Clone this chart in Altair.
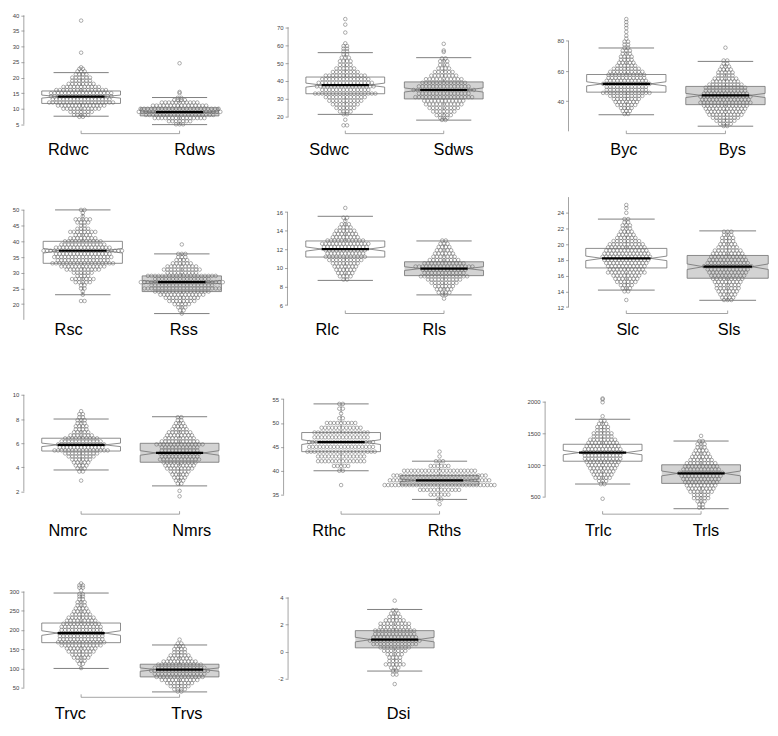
import math
import altair as alt
import pandas as pd

# ------------------------------------------------------------------ data
GROUP_NAMES = [["Rdwc", "Rdws"], ["Sdwc", "Sdws"], ["Byc", "Bys"],
               ["Rsc", "Rss"], ["Rlc", "Rls"], ["Slc", "Sls"],
               ["Nmrc", "Nmrs"], ["Rthc", "Rths"], ["Trlc", "Trls"],
               ["Trvc", "Trvs"], ["Dsi"]]
GROUP_KIND = [["c", "s"]] * 10 + [["s"]]

Y_TICKS = [[5, 10, 15, 20, 25, 30, 35, 40], [20, 30, 40, 50, 60, 70], [20, 40, 60, 80],
           [15, 20, 25, 30, 35, 40, 45, 50], [6, 8, 10, 12, 14, 16],
           [12, 14, 16, 18, 20, 22, 24, 26], [2, 4, 6, 8, 10], [35, 40, 45, 50, 55],
           [500, 1000, 1500, 2000], [50, 100, 150, 200, 250, 300], [-2, 0, 2, 4]]

# box statistics: [lower whisker, Q1, median, Q3, upper whisker]
STATS = {
    "Rdwc": [7.6, 11.7, 13.9, 15.7, 21.6], "Rdws": [4.9, 7.7, 8.9, 10.3, 13.6],
    "Sdwc": [21.4, 32.9, 37.7, 42.2, 55.8], "Sdws": [18.2, 30.0, 35.0, 39.5, 53.0],
    "Byc": [31.0, 46.0, 51.5, 57.7, 75.3], "Bys": [23.4, 37.7, 43.8, 49.8, 66.4],
    "Rsc": [23, 33, 37, 40, 50], "Rss": [17, 24, 27, 29, 36],
    "Rlc": [8.66, 11.17, 12.03, 12.9, 15.55], "Rls": [7.1, 9.17, 9.93, 10.66, 12.9],
    "Slc": [14.16, 16.98, 18.2, 19.47, 23.2], "Sls": [12.86, 15.67, 17.14, 18.57, 21.7],
    "Nmrc": [3.78, 5.35, 5.86, 6.41, 8.0], "Nmrs": [2.46, 4.42, 5.19, 5.99, 8.19],
    "Rthc": [40, 44, 46, 48, 54], "Rths": [34, 37, 38, 39, 42],
    "Trlc": [702, 1061, 1197, 1328, 1722], "Trls": [313, 712, 869, 1005, 1379],
    "Trvc": [100, 167, 192, 218, 296], "Trvs": [39, 78, 97, 111, 161],
    "Dsi": [-1.44, 0.27, 0.88, 1.54, 3.1],
}

# beeswarm rows: (value, number of points side by side)
SWARM = {
    "Rdwc": [(38.3, 1), (28.0, 1), (23.3, 1), (22.8, 2), (22.0, 3), (21.0, 4), (20.0, 6), (19.0, 6),
             (18.0, 8), (17.0, 11), (16.0, 15), (15.0, 18), (14.0, 18), (13.0, 17), (12.0, 19),
             (11.0, 14), (10.0, 11), (9.0, 7), (8.0, 5), (7.4, 2)],
    "Rdws": [(24.6, 1), (15.4, 1), (15.0, 1), (13.5, 2), (12.8, 4), (12.0, 11), (11.0, 16),
             (10.0, 23), (9.0, 24), (8.0, 20), (7.0, 15), (6.0, 7), (5.0, 3)],
    "Sdwc": [(74.5, 1), (71.4, 1), (67.0, 1), (61.0, 1), (59.5, 2), (58.0, 2), (56.5, 2), (55.0, 2),
             (53.0, 3), (51.0, 4), (49.0, 4), (47.0, 6), (45.0, 8), (43.0, 12), (41.0, 14),
             (39.0, 16), (37.0, 17), (35.0, 14), (33.0, 18), (31.0, 12), (29.0, 10), (27.0, 8),
             (25.0, 6), (23.0, 4), (21.5, 2), (18.4, 1), (15.3, 2)],
    "Sdws": [(60.7, 1), (57.0, 1), (56.2, 1), (52.6, 2), (51.0, 3), (49.0, 3), (47.0, 4), (45.0, 6),
             (43.0, 8), (41.0, 11), (39.0, 13), (37.0, 15), (35.0, 18), (33.0, 15), (31.0, 17),
             (29.0, 12), (27.0, 11), (25.0, 9), (23.0, 7), (21.0, 5), (19.5, 3), (18.3, 2)],
    "Byc": [(94.5, 1), (92.5, 1), (90.5, 1), (88.5, 1), (86.0, 1), (83.5, 1), (81.5, 1), (79.5, 2),
            (77.5, 2), (75.5, 2), (73.5, 3), (71.5, 3), (69.5, 4), (67.5, 4), (65.5, 5), (63.5, 6),
            (61.5, 8), (59.5, 10), (57.5, 11), (55.5, 11), (53.5, 12), (51.5, 14), (49.5, 12),
            (47.5, 12), (45.5, 14), (43.5, 10), (41.5, 8), (39.5, 7), (37.5, 6), (35.5, 4),
            (33.5, 3), (31.5, 2)],
    "Bys": [(75.5, 1), (67.0, 2), (65.0, 2), (63.0, 3), (61.0, 4), (59.0, 5), (57.0, 5), (55.0, 7),
            (53.0, 8), (51.0, 10), (49.0, 12), (47.0, 12), (45.0, 13), (43.0, 15), (41.0, 14),
            (39.0, 15), (37.0, 13), (35.0, 12), (33.0, 11), (31.0, 10), (29.0, 8), (27.0, 6),
            (25.0, 4), (23.5, 2)],
    "Rsc": [(50, 2), (49, 1), (48, 1), (47, 5), (46, 4), (45, 2), (44, 4), (43, 8), (42, 5), (41, 8),
            (40, 11), (39, 13), (38, 16), (37, 23), (36, 16), (35, 17), (34, 15), (33, 18), (32, 13),
            (31, 10), (30, 6), (29, 4), (28, 7), (27, 5), (26, 2), (25, 2), (24, 1), (23, 1), (21, 2)],
    "Rss": [(39, 1), (36, 3), (35, 3), (34, 4), (33, 6), (32, 9), (31, 11), (30, 9), (29, 20), (28, 16),
            (27, 24), (26, 18), (25, 22), (24, 16), (23, 13), (22, 10), (21, 8), (20, 5), (19, 3),
            (18, 2), (17, 1)],
    "Rlc": [(16.45, 1), (15.4, 2), (15.05, 1), (14.7, 3), (14.35, 4), (14.0, 6), (13.65, 7), (13.3, 8),
            (12.95, 11), (12.6, 14), (12.25, 13), (11.9, 12), (11.55, 11), (11.2, 12), (10.85, 10),
            (10.5, 8), (10.15, 7), (9.8, 6), (9.45, 5), (9.1, 4), (8.75, 2)],
    "Rls": [(12.95, 2), (12.6, 3), (12.25, 4), (11.9, 5), (11.55, 6), (11.2, 7), (10.85, 9), (10.5, 12),
            (10.15, 17), (9.8, 13), (9.45, 12), (9.1, 14), (8.75, 10), (8.4, 8), (8.05, 6), (7.7, 5),
            (7.35, 4), (7.1, 2), (6.7, 1)],
    "Slc": [(25.0, 1), (24.6, 1), (24.0, 1), (23.2, 2), (22.8, 2), (22.4, 3), (22.0, 3), (21.6, 4),
            (21.2, 5), (20.8, 6), (20.4, 8), (20.0, 10), (19.6, 11), (19.2, 12), (18.8, 13),
            (18.4, 14), (18.0, 13), (17.6, 12), (17.2, 11), (16.8, 10), (16.4, 11), (16.0, 8),
            (15.6, 7), (15.2, 6), (14.8, 4), (14.4, 3), (14.0, 2), (12.9, 1)],
    "Sls": [(21.6, 3), (21.2, 3), (20.8, 4), (20.4, 4), (20.0, 5), (19.6, 6), (19.2, 8), (18.8, 9),
            (18.4, 10), (18.0, 11), (17.6, 12), (17.2, 14), (16.8, 12), (16.4, 11), (16.0, 10),
            (15.6, 9), (15.2, 8), (14.8, 7), (14.4, 7), (14.0, 6), (13.6, 5), (13.2, 4), (12.9, 3)],
    "Nmrc": [(8.65, 1), (8.4, 2), (8.15, 2), (7.9, 3), (7.65, 3), (7.4, 4), (7.15, 4), (6.9, 5),
             (6.65, 7), (6.4, 10), (6.15, 12), (5.9, 14), (5.65, 13), (5.4, 16), (5.15, 10), (4.9, 8),
             (4.65, 6), (4.4, 5), (4.15, 4), (3.9, 3), (3.65, 2), (2.9, 1)],
    "Nmrs": [(8.15, 2), (7.9, 2), (7.65, 3), (7.4, 4), (7.15, 5), (6.9, 7), (6.65, 8), (6.4, 9),
             (6.15, 11), (5.9, 14), (5.65, 11), (5.4, 11), (5.15, 12), (4.9, 11), (4.65, 12),
             (4.4, 10), (4.15, 9), (3.9, 8), (3.65, 6), (3.4, 5), (3.15, 4), (2.9, 3), (2.65, 2),
             (2.05, 1), (1.6, 1)],
    "Rthc": [(54, 2), (53, 2), (52, 1), (51, 2), (50, 9), (49, 12), (48, 16), (47, 16), (46, 19),
             (45, 19), (44, 20), (43, 14), (42, 14), (41, 5), (40, 2), (37, 1)],
    "Rths": [(44, 1), (43, 1), (42, 3), (41, 6), (40, 21), (39, 27), (38, 29), (37, 32), (36, 12),
             (35, 6), (34, 2), (33, 1)],
    "Trlc": [(2050, 1), (2035, 1), (1990, 1), (1770, 1), (1700, 2), (1650, 3), (1600, 4), (1550, 4),
             (1500, 6), (1450, 6), (1400, 8), (1350, 9), (1300, 10), (1250, 11), (1200, 12),
             (1150, 11), (1100, 11), (1050, 10), (1000, 9), (950, 8), (900, 7), (850, 6), (800, 5),
             (750, 3), (700, 2), (470, 1)],
    "Trls": [(1460, 1), (1380, 2), (1330, 3), (1280, 3), (1230, 4), (1180, 5), (1130, 6), (1080, 7),
             (1030, 9), (980, 10), (930, 11), (880, 13), (830, 12), (780, 11), (730, 10), (680, 9),
             (630, 8), (580, 7), (530, 5), (480, 5), (430, 3), (380, 2), (330, 2)],
    "Trvc": [(321, 1), (316, 2), (310, 2), (303, 1), (293, 2), (287, 2), (280, 2), (272, 3), (264, 3),
             (256, 4), (248, 5), (240, 6), (232, 8), (224, 9), (216, 11), (208, 12), (200, 12),
             (192, 13), (184, 13), (176, 13), (168, 14), (160, 12), (152, 9), (144, 8), (136, 6),
             (128, 5), (120, 3), (112, 2), (101, 1)],
    "Trvs": [(175, 1), (165, 2), (158, 3), (150, 4), (142, 4), (134, 6), (126, 7), (118, 10),
             (110, 13), (102, 15), (94, 17), (86, 15), (78, 14), (70, 11), (62, 8), (54, 6), (46, 4),
             (40, 2)],
    "Dsi": [(3.75, 1), (3.05, 2), (2.8, 3), (2.55, 4), (2.3, 6), (2.05, 9), (1.8, 9), (1.55, 12),
            (1.3, 12), (1.05, 13), (0.8, 15), (0.55, 13), (0.3, 9), (0.05, 7), (-0.2, 5), (-0.45, 4),
            (-0.7, 4), (-0.95, 6), (-1.2, 3), (-1.45, 2), (-1.7, 2), (-2.4, 1)],
}

# ------------------------------------------------------------------ layout (measured on the reference)
AXIS_REF = [14, 287.3, 575, 16, 286.7, 575, 16, 282.7, 551, 14.7, 287.3]
CENTER_REF = [(75, 176), (346, 447), (634.3, 736), (76.7, 178.3), (346, 447.3), (634.3, 738.3),
              (75, 176), (341.7, 442.7), (610, 711), (75, 176), (396.7,)]
TICK_REF = [(40, 2.7, 5, 116), (70, 15, 20, 108.3), (80, 29.3, 20, 123.3), (50, 205, 15, 319.3),
            (16, 207.3, 6, 304), (26, 191.7, 12, 306), (10, 397.3, 2, 497.7), (55, 401.7, 35, 501),
            (2000, 404.3, 500, 503.3), (300, 601.7, 50, 701.7), (4, 607.7, -2, 692.3)]
LABEL_SHIFT_REF = [(-13.5, 15), (-17, 9.5), (-3, 6.5), (-15, 1.5), (-19, -10.5), (1, 1), (-14, 12),
                   (-13, 4.5), (-5, 4.5), (-11.5, 7), (3.5,)]
HAS_BRACKET = [True, True, True, False, True, True, True, True, True, True, False]
ROW_BRACKET_REF = [125.7, 312.7, 521.3, 711.7]

SX, SY = 0.985, 0.972


def MX(r):
    return 8 + SX * (r - 1)


def MY(r):
    return 8 + SY * r


L0 = 23.0                           # expected page x of the first column's plot edge
PW, PH = 192, 118                   # uniform plot cell
COL_STEP = (MX(575) - L0) / 2.0     # distance between column left edges
ROW_STEP = 189.0
HSP, VSP = COL_STEP - PW, ROW_STEP - PH
TOP0 = 8.0
DX = 0.036                          # horizontal distance between swarm points (x units)
HALF_BOX = 0.4
NOTCH_F = 0.6
MED_HALF = 0.24
CAP_HALF = 0.28
LABEL_GAP = 16.5                    # label centre below the bracket

GRAY = "#707070"
AXGRAY = "#8c8c8c"
BOX_FILL = {"c": "#ffffff", "s": "#d3d3d3"}


def make_panel(p):
    r, c = divmod(p, 3)
    left = L0 + c * COL_STEP
    top = TOP0 + r * ROW_STEP
    width, height = PW, PH
    bracket_y = MY(ROW_BRACKET_REF[r]) - top
    axis_off = max(0.0, left - MX(AXIS_REF[p])) if c > 0 else 0.0

    names = GROUP_NAMES[p]
    kinds = GROUP_KIND[p]
    cref = CENTER_REF[p]
    ppu = (MX(cref[1]) - MX(cref[0])) if len(cref) == 2 else 99.5
    c1 = MX(cref[0])
    xdom = [1 - (c1 - left) / ppu, 1 + (left + width - c1) / ppu]
    ta, ya, tb, yb = TICK_REF[p]
    Ya, Yb = MY(ya), MY(yb)
    ppy = (Yb - Ya) / (ta - tb)
    ydom = [tb - (top + height - Yb) / ppy, ta + (Ya - top) / ppy]
    ticks = Y_TICKS[p]

    ys = alt.Scale(domain=ydom, nice=False, zero=False)
    xs = alt.Scale(domain=xdom, nice=False, zero=False)
    ya_ax = alt.Axis(values=ticks, domain=False, grid=False, title=None, tickSize=3,
                     tickColor=AXGRAY, tickWidth=0.8, labelFont="Liberation Sans",
                     labelFontSize=6, labelColor="#444444", labelPadding=2, offset=axis_off,
                     labelOverlap=False, labelFlush=False, labelExpr="'' + datum.value")
    shifts = [s * SX for s in LABEL_SHIFT_REF[p]]
    if len(names) == 2:
        lexpr = "datum.value < 1.5 ? '%s' : '%s'" % (names[0], names[1])
        loff = {"condition": {"test": "datum.value < 1.5", "value": shifts[0]}, "value": shifts[1]}
        xvals = [1, 2]
    else:
        lexpr = "'%s'" % names[0]
        loff = shifts[0]
        xvals = [1]
    xa_ax = alt.Axis(values=xvals, labelExpr=lexpr, domain=False, ticks=False, tickSize=0,
                     grid=False, title=None, labelFont="Liberation Sans", labelFontSize=16.5,
                     labelColor="#000000", labelPadding=bracket_y + LABEL_GAP - height,
                     labelBaseline="middle", labelOffset=loff, labelFlush=False,
                     labelOverlap=False)

    def X(f):
        return alt.X(f, type="quantitative", scale=xs, axis=xa_ax)

    def Y(f):
        return alt.Y(f, type="quantitative", scale=ys, axis=ya_ax)

    pts, med, caps, wh, outline = [], [], [], [], []
    rects = {"c": [], "s": []}
    for gi, name in enumerate(names):
        cx = gi + 1
        lo, q1, md, q3, hi = STATS[name]
        sw = SWARM[name]
        n = sum(k for _, k in sw)
        nt = 1.58 * (q3 - q1) / math.sqrt(n)
        rects[kinds[gi]].append({"xl": cx - HALF_BOX, "xr": cx + HALF_BOX, "q1": q1, "q3": q3})
        poly = [(-1, q1), (1, q1), (1, md - nt), (NOTCH_F, md), (1, md + nt), (1, q3),
                (-1, q3), (-1, md + nt), (-NOTCH_F, md), (-1, md - nt), (-1, q1)]
        for k, (f, yy) in enumerate(poly):
            outline.append({"grp": name, "k": k, "x": cx + HALF_BOX * f, "y": yy})
        for v, k in sw:
            for i in range(k):
                pts.append({"grp": name, "x": cx + (i - (k - 1) / 2) * DX, "y": v})
        med.append({"x": cx - MED_HALF, "x2": cx + MED_HALF, "y": md})
        caps.append({"x": cx - CAP_HALF, "x2": cx + CAP_HALF, "y": lo})
        caps.append({"x": cx - CAP_HALF, "x2": cx + CAP_HALF, "y": hi})
        wh.append({"x": cx, "y": q3, "y2": hi})
        wh.append({"x": cx, "y": lo, "y2": q1})

    layers = []
    for kind in ("c", "s"):
        if rects[kind]:
            layers.append(alt.Chart(pd.DataFrame(rects[kind])).mark_rect(
                fill=BOX_FILL[kind], opacity=1, strokeWidth=0).encode(
                x=X("xl"), x2="xr", y=Y("q1"), y2="q3"))
    layers.append(alt.Chart(pd.DataFrame(outline)).mark_line(
        color=GRAY, strokeWidth=0.8).encode(x=X("x"), y=Y("y"), detail="grp:N", order="k:Q"))
    layers.append(alt.Chart(pd.DataFrame(wh)).mark_rule(
        color=GRAY, strokeWidth=0.8, strokeDash=[3, 2]).encode(x=X("x"), y=Y("y"), y2="y2"))
    layers.append(alt.Chart(pd.DataFrame({"a": [min(ticks)], "b": [max(ticks)]})).mark_rule(
        color=AXGRAY, strokeWidth=0.8).encode(x=alt.value(-axis_off), y=Y("a"), y2="b"))
    if HAS_BRACKET[p]:
        layers.append(alt.Chart(pd.DataFrame({"a": [1], "b": [2]})).mark_rule(
            color=AXGRAY, strokeWidth=0.8).encode(x=X("a"), x2="b", y=alt.value(bracket_y)))
        layers.append(alt.Chart(pd.DataFrame({"a": [1, 2]})).mark_rule(
            color=AXGRAY, strokeWidth=0.8).encode(x=X("a"), y=alt.value(bracket_y),
                                                  y2=alt.value(bracket_y - 3)))
    layers.append(alt.Chart(pd.DataFrame(pts)).mark_point(
        shape="circle", filled=False, size=13, color="#6a6a6a", strokeWidth=0.55,
        opacity=1).encode(x=X("x"), y=Y("y")))
    layers.append(alt.Chart(pd.DataFrame(med)).mark_rule(
        color="#000000", strokeWidth=2.2).encode(x=X("x"), x2="x2", y=Y("y")))
    layers.append(alt.Chart(pd.DataFrame(caps)).mark_rule(
        color=GRAY, strokeWidth=0.9).encode(x=X("x"), x2="x2", y=Y("y")))
    return alt.layer(*layers).properties(width=width, height=height)


panels = [make_panel(p) for p in range(11)]

chart = alt.concat(*panels, columns=3, align="all", bounds="flush",
                   spacing={"row": VSP, "column": HSP}).properties(padding=0).configure_view(stroke=None)

chart.save("out.html", embed_options={"renderer": "svg", "actions": False})
